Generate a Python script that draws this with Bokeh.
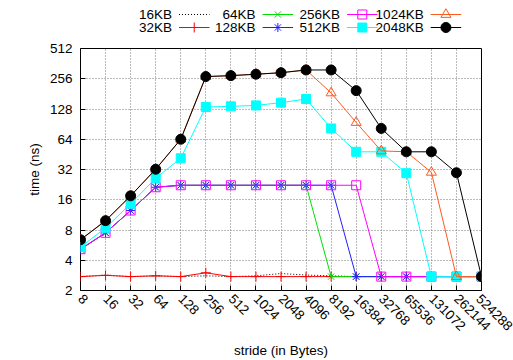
import numpy as np
from bokeh.plotting import figure
from bokeh.layouts import column
from bokeh.models import FixedTicker, PrintfTickFormatter, Range1d
from bokeh.embed import file_html
from bokeh.resources import INLINE
from bokeh.core.properties import value

# Stride in bytes (x) and access time in ns (y) for each working-set size
strides = [8, 16, 32, 64, 128, 256, 512, 1024, 2048, 4096, 8192,
           16384, 32768, 65536, 131072, 262144, 524288]
y_ticks = [2, 4, 8, 16, 32, 64, 128, 256, 512]

t_16kb = [2.75, 2.85, 2.75, 2.8, 2.75, 2.8, 2.75, 2.8, 2.95, 2.85, 2.8,
          2.75, 2.75, 2.75, 2.75, 2.75, 2.75]
t_32kb = [2.75, 2.83, 2.75, 2.8, 2.75, 3.0, 2.75, 2.75, 2.75, 2.75, 2.75,
          2.75, 2.75, 2.75, 2.75, 2.75, 2.75]
t_64kb = [5.15, 7.5, 12.5, 21.3, 22.3, 22.3, 22.3, 22.3, 22.3, 22.3, 2.75,
          2.75, 2.75, 2.75, 2.75, 2.75, 2.75]
t_128kb = [5.15, 7.5, 12.5, 21.3, 22.3, 22.3, 22.3, 22.3, 22.3, 22.3, 22.3,
           2.75, 2.75, 2.75, 2.75, 2.75, 2.75]
t_256kb = [5.15, 7.5, 12.5, 21.3, 22.3, 22.3, 22.3, 22.3, 22.3, 22.3, 22.3,
           22.3, 2.75, 2.75, 2.75, 2.75, 2.75]
t_512kb = [5.4, 8.4, 14.6, 26.2, 41.4, 134, 136, 139, 148, 161, 82,
           48, 48, 29.4, 2.75, 2.75, 2.75]
t_1024kb = [6.4, 9.9, 17.5, 32.2, 64, 269, 275, 284, 294, 313, 185,
            94, 49, 48, 30, 2.75, 2.75]
t_2048kb = [6.4, 9.9, 17.5, 32.2, 64, 269, 275, 284, 294, 313, 313,
            195, 82, 48, 48, 29.7, 2.75]

labels = ["16KB", "32KB", "64KB", "128KB", "256KB", "512KB", "1024KB", "2048KB"]
series = [t_16kb, t_32kb, t_64kb, t_128kb, t_256kb, t_512kb, t_1024kb, t_2048kb]
colors = ["#000000", "#ff0000", "#00e000", "#2020ff", "#ff00ff", "#00ffff",
          "#ff5a1e", "#000000"]
markers = [None, "cross", "x", "asterisk", "square", "square", "triangle", "circle"]
filled = [False, False, False, False, False, True, False, True]
dashes = ["1 2", "solid", "solid", "solid", "solid", "solid", "solid", "solid"]
msizes = [0, 10, 9, 9, 9, 9, 10, 10]

FONT = "Liberation Sans"
FS = "13.5px"
WIDTH = 513

# ---- main chart ----
p = figure(width=WIDTH, height=320, x_axis_type="log", y_axis_type="log",
           x_range=Range1d(8, 524288), y_range=Range1d(2, 512),
           output_backend="svg", toolbar_location=None,
           min_border_left=80, min_border_right=32, min_border_top=8,
           min_border_bottom=67)
p.outline_line_color = "black"
p.outline_line_width = 1
p.background_fill_color = "white"
p.border_fill_color = "white"

for vals, col, mk, fl, dash, ms in zip(series, colors, markers, filled, dashes, msizes):
    p.line(strides, vals, line_color=col, line_width=1, line_dash=dash)
    if mk is not None:
        p.scatter(strides, vals, marker=mk, size=ms, line_color=col,
                  fill_color=col if fl else None, line_width=1)

p.xaxis.ticker = FixedTicker(ticks=strides)
p.yaxis.ticker = FixedTicker(ticks=y_ticks)
p.xaxis.formatter = PrintfTickFormatter(format="%d")
p.yaxis.formatter = PrintfTickFormatter(format="%d")
p.xaxis.major_label_orientation = -np.pi / 4
for ax in (p.xaxis, p.yaxis):
    ax.major_label_text_font = FONT
    ax.major_label_text_font_size = FS
    ax.major_label_text_color = "black"
    ax.axis_label_text_font = FONT
    ax.axis_label_text_font_size = FS
    ax.axis_label_text_font_style = "normal"
    ax.axis_label_text_color = "black"
    ax.axis_line_color = None
    ax.major_tick_in = 5
    ax.major_tick_out = 0
    ax.minor_tick_line_color = None
    ax.major_tick_line_color = "black"
p.xaxis.axis_label = "stride (in Bytes)"
p.yaxis.axis_label = "time (ns)"
p.yaxis.major_label_standoff = 8
p.xaxis.major_label_standoff = 6

p.grid.grid_line_color = "#777777"
p.grid.grid_line_dash = "1 2"
p.grid.grid_line_width = 1
p.xgrid.ticker = FixedTicker(ticks=strides)
p.ygrid.ticker = FixedTicker(ticks=y_ticks)

# ---- key above the chart (label on the left, sample on the right) ----
# The key's frame spans the whole strip, so its ranges are in canvas pixels.
leg = figure(width=WIDTH, height=40, x_range=Range1d(0, WIDTH),
             y_range=Range1d(40, 0), output_backend="svg", toolbar_location=None,
             min_border=0, min_border_left=0, min_border_right=0,
             min_border_top=0, min_border_bottom=0)
leg.axis.visible = False
leg.grid.visible = False
leg.outline_line_color = None
leg.border_fill_color = "white"

col_right = [117, 224, 332, 439]
row_y = [14, 27]
for i, (lab, col, mk, fl, dash, ms) in enumerate(zip(labels, colors, markers, filled, dashes, msizes)):
    c, r = i // 2, i % 2
    xr, yy = col_right[c], row_y[r]
    leg.text([xr], [yy], text=[lab], text_align="right", text_baseline="middle",
             text_font=value(FONT), text_font_size=FS, text_color="black")
    leg.line([xr + 9, xr + 48], [yy, yy], line_color=col, line_width=1, line_dash=dash)
    if mk is not None:
        leg.scatter([xr + 28.5], [yy], marker=mk, size=ms, line_color=col,
                    fill_color=col if fl else None, line_width=1)

layout = column(leg, p, spacing=0)
open("out.html", "w").write(file_html(layout, INLINE))
